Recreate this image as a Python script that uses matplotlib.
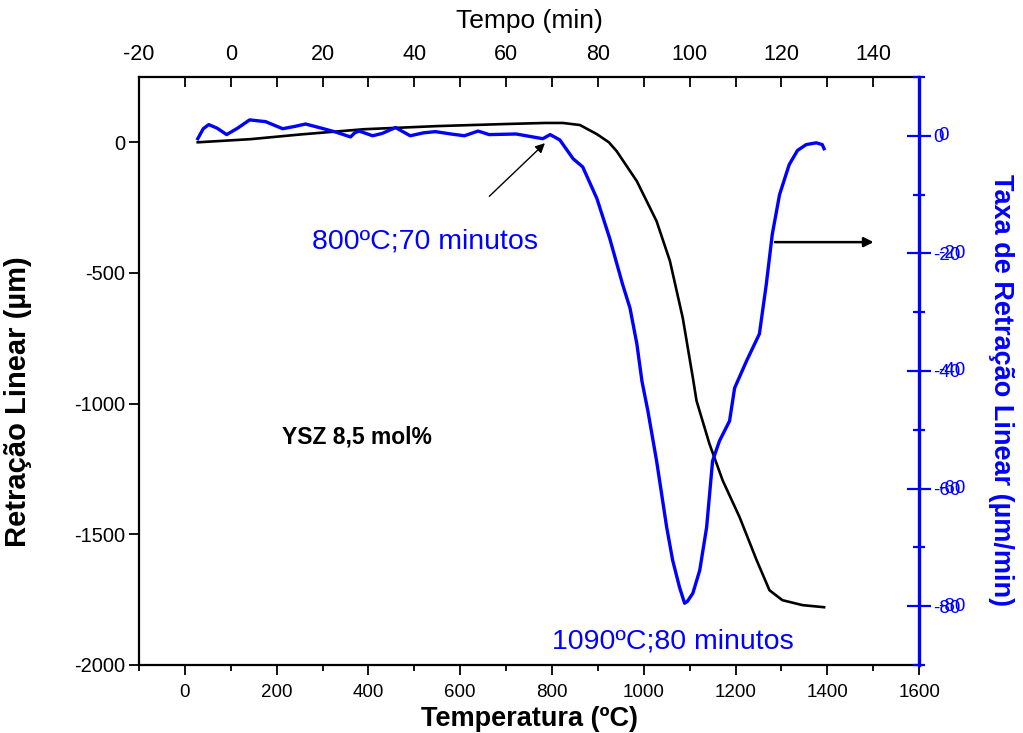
import matplotlib
matplotlib.use("Agg")
import matplotlib.pyplot as plt
from matplotlib.ticker import MultipleLocator
import matplotlib.transforms as mtransforms

plt.rcParams["font.family"] = ["Liberation Sans", "DejaVu Sans"]
plt.rcParams["axes.unicode_minus"] = False

# retração linear (um) vs temperatura (C)
temp_ret = [28, 143, 252, 390, 550, 700, 785, 824, 861, 898, 924, 941, 985, 1028, 1057,
            1085, 1107, 1115, 1143, 1172, 1209, 1246, 1274, 1302, 1346, 1393]
retracao = [0, 12, 30, 50, 62, 70, 74, 74, 66, 31, 0, -34, -149, -302, -454,
            -672, -901, -989, -1153, -1294, -1435, -1599, -1714, -1752, -1771, -1779]

# taxa de retração (um/min), plotted on the same temperature scale
temp_taxa = [28, 40, 52, 70, 91, 115, 141, 176, 213, 240, 263, 302, 330, 361, 370, 380,
             409, 430, 459, 491, 520, 546, 580, 609, 639, 663, 722, 780, 796, 817,
             846, 867, 898, 926, 954, 970, 985, 996, 1009, 1028, 1050, 1063, 1078,
             1089, 1095, 1107, 1122, 1137, 1150, 1165, 1187, 1198, 1224, 1252, 1267,
             1280, 1296, 1317, 1335, 1354, 1376, 1389, 1393]
taxa = [-0.5, 1.2, 1.9, 1.3, 0.2, 1.3, 2.7, 2.4, 1.2, 1.6, 2.0, 1.2, 0.6, -0.2, 0.5, 0.8,
        0, 0.4, 1.4, 0, 0.5, 0.7, 0.3, 0, 0.8, 0.2, 0.3, -0.5, 0.2, -0.7,
        -3.9, -5.3, -10.7, -17.5, -25.3, -29.3, -35.4, -41.7, -46.8, -55.3, -66.6, -72.2, -76.8,
        -79.5, -79.2, -77.8, -73.9, -66.6, -55.3, -51.9, -48.5, -42.9, -38.3, -33.7, -25.3,
        -16.8, -10.0, -4.9, -2.5, -1.5, -1.2, -1.5, -2.2]

temp_ticks = [0, 200, 400, 600, 800, 1000, 1200, 1400, 1600]
ret_ticks = [-2000, -1500, -1000, -500, 0]
taxa_ticks = [-80, -60, -40, -20, 0]
tempo_ticks = [-20, 0, 20, 40, 60, 80, 100, 120, 140]

BLUE = "#0000ff"
tick_fs = 13.5

fig = plt.figure(figsize=(10.23, 7.33), dpi=100)
ax = fig.add_axes([0.1359, 0.0928, 0.7625, 0.8022])

ax.plot(temp_ret, retracao, color="black", lw=1.9, zorder=3)
ax.set_xlim(-100, 1600)
ax.set_ylim(-2000, 250)
ax.set_xticks(temp_ticks)
ax.set_yticks(ret_ticks)
ax.xaxis.set_minor_locator(MultipleLocator(100))
ax.tick_params(axis="x", which="major", direction="out", length=7, width=1.3, labelsize=tick_fs, pad=7)
ax.tick_params(axis="x", which="minor", direction="out", length=4, width=1.3)
ax.tick_params(axis="y", which="major", direction="out", length=7, width=1.3, labelsize=14.5, pad=3)
ax.set_xlabel("Temperatura (ºC)", fontsize=19.5, fontweight="bold", labelpad=3)
ax.set_ylabel("Retração Linear (µm)", fontsize=21, fontweight="bold")
ax.yaxis.set_label_coords(-0.137, 0.448)
for s in ["left", "bottom"]:
    ax.spines[s].set_linewidth(1.6)
ax.spines["top"].set_visible(False)
ax.spines["right"].set_visible(False)

# top axis: tempo
ax3 = ax.twiny()
ax3.set_xlim(-20, 150)
ax3.set_xticks(tempo_ticks)
ax3.xaxis.set_minor_locator(MultipleLocator(10))
ax3.tick_params(axis="x", which="both", direction="in", length=7, width=1.3, labelsize=15.5, pad=8.5)
ax3.set_xlabel("Tempo (min)", fontsize=19, labelpad=11.5)
ax3.spines["top"].set_linewidth(1.6)
for s in ["left", "right", "bottom"]:
    ax3.spines[s].set_visible(False)

# right axis: taxa de retração
ax2 = ax.twinx()
ax2.plot(temp_taxa, taxa, color=BLUE, lw=2.4, zorder=3)
ax2.set_ylim(-90, 10)
ax2.set_yticks(taxa_ticks)
ax2.yaxis.set_minor_locator(MultipleLocator(10))
ax2.tick_params(axis="y", which="major", direction="inout", length=17, width=1.6,
                color=BLUE, labelcolor=BLUE, labelsize=tick_fs, pad=1.5)
ax2.tick_params(axis="y", which="minor", direction="inout", length=9, width=1.6, color=BLUE)
ax2.set_ylabel("Taxa de Retração Linear (µm/min)", fontsize=19.5, fontweight="bold",
               color=BLUE, rotation=-90, va="center")
ax2.yaxis.set_label_coords(1.105, 0.468)
ax2.spines["right"].set_color(BLUE)
ax2.spines["right"].set_linewidth(2.4)
for s in ["left", "top", "bottom"]:
    ax2.spines[s].set_visible(False)

# doubled right tick labels as in the original export
lab_tr = (mtransforms.blended_transform_factory(ax2.transAxes, ax2.transData)
          + mtransforms.ScaledTranslation(19.5 / 100, 0, fig.dpi_scale_trans))
for v in taxa_ticks:
    ax2.text(1.0, v, f"{v}", transform=lab_tr, color=BLUE, fontsize=tick_fs, ha="left", va="center")

# annotations
ax.annotate("", xy=(789, 4), xytext=(659, -214),
            arrowprops=dict(arrowstyle="-|>", color="black", lw=1, mutation_scale=14))
ax.text(524, -378, "800ºC;70 minutos", color=BLUE, fontsize=20.5, ha="center", va="center")
ax.annotate("", xy=(1507, -382), xytext=(1280, -382),
            arrowprops=dict(arrowstyle="-|>", color="black", lw=1.8, mutation_scale=14))
ax.text(1063, -1910, "1090ºC;80 minutos", color=BLUE, fontsize=20.5, ha="center", va="center")
ax.text(375, -1128, "YSZ 8,5 mol%", color="black", fontsize=16.5, fontweight="bold", ha="center", va="center")

fig.savefig("out.png", dpi=100)
